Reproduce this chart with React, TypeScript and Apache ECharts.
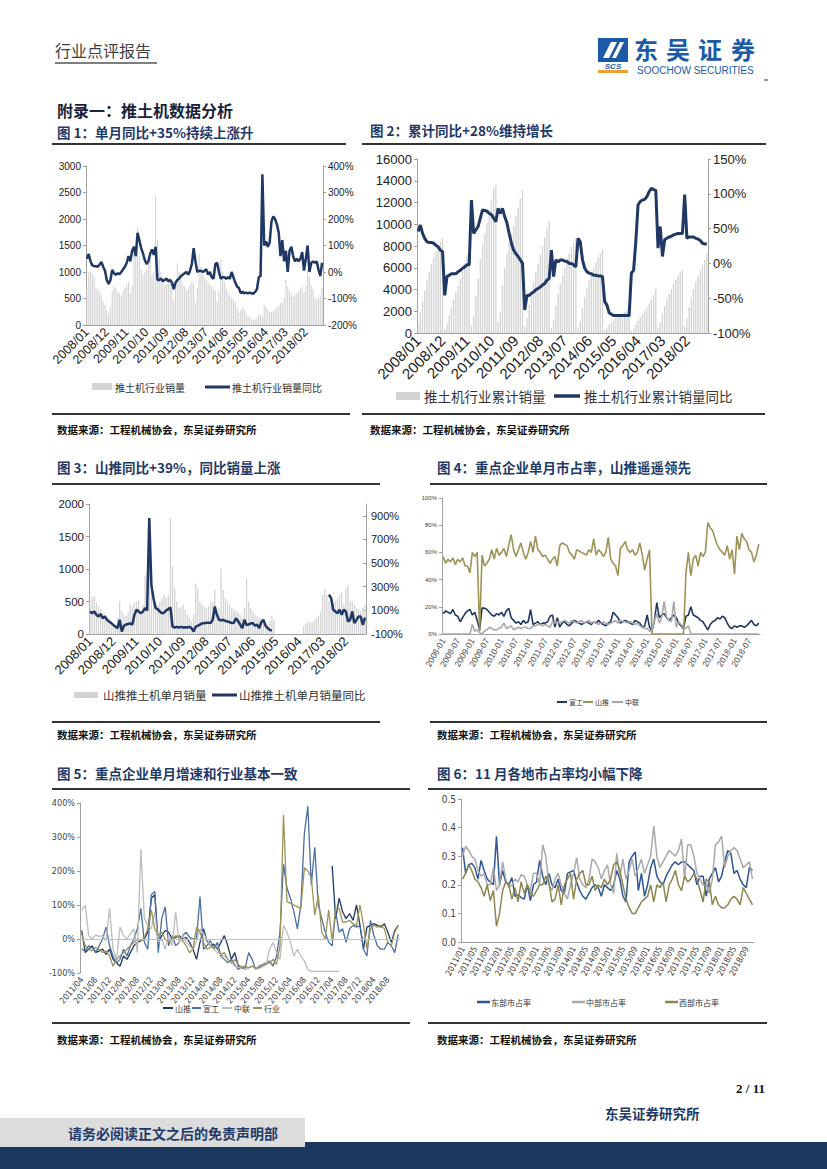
import React, { useEffect, useRef } from 'react';
import * as echarts from 'echarts';

const SANS = '"Liberation Sans", Arial, sans-serif';
const NARROW = '"Liberation Sans Narrow", "DejaVu Sans Condensed", "Liberation Sans", sans-serif';
const CJK = '"Noto Sans CJK SC", sans-serif';
const NAVY = '#1f3864';
const OLIVE = '#9c9456';
const GREY_LINE = '#a9a9a9';
const BAR_GREY = '#d3d3d3';
const AXIS_GREY = '#a0a0a0';
const BLUE = '#4a6fa5';

function monthLabels(y0: number, m0: number, n: number, sep: string): string[] {
  const out: string[] = [];
  let y = y0;
  let m = m0;
  for (let i = 0; i < n; i++) {
    out.push(`${y}${sep}${String(m).padStart(2, '0')}`);
    m++;
    if (m > 12) { m = 1; y++; }
  }
  return out;
}

// categories
const MONTHS_0801 = monthLabels(2008, 1, 131, '/');
const MONTHS_0801_DASH = monthLabels(2008, 1, 131, '-');
const MONTHS_1104 = monthLabels(2011, 4, 92, '/');
const MONTHS_1101 = monthLabels(2011, 1, 95, '/');

// Fig 1: industry monthly sales (units) and YoY (%)
const IND_SALES = [
  700, 1000, 1010, 960, 900, 700, 680, 620, 560, 450, 380, 280,
  220, 350, 650, 720, 700, 620, 600, 560, 640, 700, 780, 820,
  600, 750, 1450, 1500, 1830, 1300, 1050, 950, 1000, 1050, 1150, 1250,
  950, 1000, 2430, 1600, 1250, 1000, 800, 750, 780, 850, 900, 750,
  450, 750, 1170, 1000, 850, 760, 720, 660, 700, 760, 820, 780,
  420, 700, 1350, 1100, 950, 900, 850, 800, 760, 720, 680, 640,
  450, 650, 1230, 1000, 820, 700, 620, 560, 500, 470, 430, 330,
  230, 280, 340, 300, 220, 170, 140, 110, 95, 110, 140, 190,
  190, 150, 380, 330, 290, 250, 250, 260, 290, 330, 370, 420,
  420, 500, 850, 720, 640, 580, 540, 560, 600, 640, 690, 720,
  620, 740, 1050, 920, 760, 680, 520, 470, 520, 560, 700,
];
const IND_YOY = [
  50, 68, 40, 25, 22, 22, 20, 28, 38, 20, 5, -30,
  -45, -30, 8, -5, -10, -5, -8, 0, 10, 20, 35, 60,
  40, 80, 95, 60, 148, 120, 90, 70, 45, 30, 40, 70,
  85, 65, 95, -30, -30, -25, -35, -30, -25, -35, -30, -40,
  -65, -40, -30, -25, -15, -10, -5, 0, -10, 5, 30, 90,
  40, 0, 5, 5, 0, 5, 10, -10, 0, -20, -25, 30,
  35, 0, -25, -20, -20, -25, -20, -25, 0, -20, -40, -55,
  -60, -80, -75, -80, -78, -80, -78, -80, -82, -75, -65, -20,
  -15, 369, 100, 115, 95, 110, 190, 210, 200, 180, 150, 60,
  120, 40, 80, 0, 80, 95, 60, 40, 50, 40, 50, 75,
  5, 50, 100, 0, 35, 40, 35, 40, 10, -15, 35,
];

// Fig 2: cumulative sales and cumulative YoY (%)
const CUM_SALES = [
  900, 1900, 2900, 3900, 4800, 5600, 6300, 6900, 7500, 8000, 8400, 8700,
  350, 850, 1650, 2400, 3100, 3750, 4350, 4950, 5650, 6400, 7200, 8000,
  700, 1600, 3400, 5000, 6800, 8100, 9200, 10100, 11100, 12200, 13300, 13600,
  1000, 2000, 4400, 6000, 7300, 8300, 9100, 9900, 10700, 11500, 12400, 13100,
  600, 1400, 2600, 3700, 4700, 5600, 6400, 7200, 8000, 8800, 9600, 10300,
  450, 1150, 2500, 3600, 4500, 5300, 6000, 6700, 7300, 7900, 8300, 8700,
  450, 1100, 2300, 3300, 4100, 4800, 5400, 5950, 6450, 6900, 7350, 7700,
  250, 500, 800, 1050, 1250, 1400, 1550, 1700, 1800, 1950, 2100, 2300,
  200, 350, 750, 1100, 1450, 1750, 2050, 2350, 2700, 3100, 3550, 4100,
  450, 950, 1800, 2500, 3100, 3600, 4050, 4500, 4900, 5300, 5600, 5800,
  600, 1300, 2400, 3300, 4050, 4700, 5250, 5750, 6250, 6750, 7400,
];
const CUM_YOY = [
  46, 55, 43, 36, 31, 30, 30, 29, 26, 24, 19, 17,
  -46, -19, -17, -15, -15, -15, -12, -10, -7, -5, -2, -2,
  91, 43, 48, 53, 65, 77, 76, 75, 72, 70, 65, 60,
  79, 72, 79, 67, 58, 43, 29, 19, 14, 10, 5, 0,
  -67, -46, -46, -43, -41, -38, -36, -34, -31, -29, -24, -22,
  19, -19, 5, 2, 5, 5, 3, 3, 0, 0, -2, -5,
  36, 31, 5, -7, -12, -14, -15, -17, -17, -18, -18, -19,
  -55, -60, -71, -73, -75, -75, -75, -75, -75, -75, -75, -75,
  -14, -10, 31, 84, 89, 91, 92, 96, 103, 108, 106, 105,
  22, 53, 10, 34, 36, 38, 39, 41, 42, 43, 43, 43,
  99, 36, 38, 38, 38, 36, 35, 33, 29, 28, 28,
];

// Fig 3: Shantui monthly sales and YoY (%)
const ST_SALES = [
  450, 570, 580, 480, 430, 380, 330, 290, 260, 220, 200, 160,
  120, 250, 500, 350, 300, 280, 330, 450, 420, 480, 500, 520,
  300, 450, 900, 960, 1060, 800, 600, 500, 450, 500, 550, 600,
  550, 600, 1785, 1040, 700, 500, 400, 420, 450, 380, 300, 250,
  200, 300, 780, 700, 500, 450, 420, 400, 430, 480, 500, 680,
  300, 400, 1010, 680, 550, 500, 450, 400, 380, 350, 330, 300,
  250, 400, 860, 500, 400, 350, 300, 280, 250, 230, 220, 150,
  150, 200, 290, 220, null, null, null, null, null, null, null, null,
  null, null, null, null, null, 110, 160, 190, 170, 180, 200, 240,
  280, 350, 600, 700, 600, 500, 450, 480, 500, 550, 600, 650,
  450, 700, 750, 500, 500, 450, 400, 380, 350, 400, 450,
];
const ST_YOY = [
  90, 76, 90, 62, 48, 68, 34, 48, 20, 6, -8, -23,
  -37, -51, 20, -79, -30, -20, -15, -10, -20, 62, 105, 90,
  76, 90, 119, 100, 882, 316, 200, 119, 110, 90, 76, 80,
  100, 110, 125, -37, -45, -40, -45, -40, -45, -42, -45, -40,
  -50, -79, -37, -30, -20, -10, -10, -5, -5, -8, 20, 133,
  62, 20, 15, 20, 10, 6, 0, -8, -5, 34, 10, -20,
  -51, 20, -23, -20, -10, -8, -30, -20, -51, 0, 20, -30,
  -51, -65, -71, null, null, null, null, null, null, null, null, null,
  null, null, null, null, null, null, null, null, null, null, null, null,
  null, null, null, null, null, 232, 204, 105, 90, 76, 105, 62,
  105, 90, 6, 20, 90, -8, 20, 48, 48, -23, 39,
];

// Fig 4: monthly market share (%)
const SHARE_XG = [
  15, 17, 16, 15, 18, 14, 13, 9, 12, 15, 17, 18,
  14, 16, 10, 3, 19, 19, 18, 16, 14, 13, 15, 14,
  16, 13, 17, 19, 12, 10, 8, 9, 7, 10, 8, 9,
  18, 7, 8, 9, 7, 8, 8, 9, 13, 14, 5, 12,
  5, 8, 9, 7, 6, 8, 10, 9, 8, 7, 8, 9,
  8, 7, 9, 8, 10, 8, 7, 6, 8, 9, 16, 14,
  12, 8, 9, 10, 9, 8, 7, 10, 9, 8, 5, 6,
  14, 5, 2, 10, 23, 12, 14, 15, 12, 10, 12, 14,
  12, 8, 6, 4, 13, 14, 20, 14, 13, 12, 10, 9,
  6, 3, 7, 9, 10, 12, 11, 13, 12, 8, 5, 4,
  6, 5, 6, 6, 5, 6, 8, 10, 7, 6, 8,
];
const SHARE_ST = [
  57, 52, 55, 53, 56, 51, 55, 53, 56, 50, 50, 45,
  60, 57, 60, 2, 58, 50, 52, 55, 62, 55, 63, 58,
  60, 63, 57, 65, 73, 62, 57, 62, 67, 60, 55, 60,
  68, 60, 72, 62, 60, 57, 58, 55, 52, 55, 57, 50,
  65, 67, 66, 65, 60, 58, 55, 62, 61, 60, 59, 58,
  62, 60, 70, 58, 62, 60, 57, 60, 71, 55, 52, 50,
  43, 63, 65, 68, 62, 60, 62, 58, 60, 67, 58, 47,
  55, 62, 0, 0, 0, 0, 0, 0, 0, 0, 0, 0,
  0, 0, 0, 0, 45, 60, 43, 55, 58, 50, 60, 57,
  60, 82, 78, 76, 70, 65, 62, 60, 58, 65, 55, 62,
  44, 72, 62, 74, 70, 68, 62, 60, 53, 58, 66,
];
const SHARE_ZL = [
  0, 0, 0, 0, 0, 0, 0, 0, 0, 0, 0, 0,
  7, 2, 3, 1, 0, 2, 3, 5, 4, 3, 3, 4,
  5, 8, 4, 5, 6, 3, 4, 5, 4, 5, 5, 4,
  4, 6, 6, 7, 7, 6, 7, 6, 5, 9, 8, 9,
  8, 9, 10, 9, 8, 10, 9, 8, 9, 10, 8, 9,
  10, 8, 9, 8, 7, 8, 9, 8, 7, 8, 9, 10,
  8, 10, 9, 9, 8, 9, 8, 7, 8, 6, 5, 4,
  4, 2, 3, 10, 15, 8, 12, 24, 12, 10, 9, 24,
  5, 9, 7, 5, 4, 6, 0, 0, 0, 0, 0, 0,
  0, 0, 0, 0, 0, 0, 0, 0, 0, 0, 0, 0,
  0, 0, 0, 0, 0, 0, 0, 0, 0, 0, 0,
];

// Fig 5: monthly YoY growth (%), 2011/04 - 2018/11
const YOY5_ST = [
  25, -40, -30, -20, -40, -35, -30, -45, -30,
  -60, -70, -80, -50, -60, -40, -20, -10, -5, 0, 20, 120,
  130, -10, 10, 25, 20, 0, 5, 10, 0, 5, -10, -30,
  -60, -10, 30, -5, -20, -15, -30, -10, 10, -20, -60, -40,
  -80, -85, -88, null, null, null, null, null, null, null, null, null,
  null, null, null, null, null, null, null, null, null, null, null, null,
  null, null, null, 215, 60, 120, 80, 60, 75, 55, 100, 40,
  -30, 35, 40, 45, 40, 35, 45, 20, -10, 25, 40,
];
const YOY5_XG = [
  -30, -35, -20, -25, -40, -20, 0, 35, -20,
  -50, -70, -60, -30, -50, -20, 0, 30, 90, -10, -30, 130,
  140, -40, 60, 95, -20, 10, -20, -10, 10, 20, 5, 0,
  0, 125, -30, -20, -5, -30, -10, -50, -60, -70, -60, -75,
  -90, -80, -85, -40, -60, -90, -80, -75, -70, -65, -80, -50,
  20, 220, 150, 120, 80, 30, 100, 310, 390, 160, 270, 100,
  60, 20, -10, -20, 80, 20, 30, -10, 30, 40, 35, 40,
  -30, -50, 55, 10, -20, -30, -30, -10, -20, -40, 15,
];
const YOY5_ZL = [
  85, 100, 10, 0, 12, 8, 10, -5, 90,
  -30, -60, 35, 10, 0, 15, 30, -40, 265, 60, 40, 30,
  80, -10, 0, -30, 5, -20, 80, -10, 10, -10, -20, -30,
  -5, 30, 15, 0, -20, -30, -40, -45, -50, -60, -70, -80,
  -85, -80, -90, -85, -80, -90, -85, -80, -75, -30, -10, -40,
  -60, 40, 20, -10, -50, -30, -50, -65, -90, -95, -95, -95,
  -95, -95, -95, -95, -95, -95, null, null, null, null, null, null,
  null, null, null, null, null, null, null, null, null, null, null,
];
const YOY5_IND = [
  15, -20, -30, -35, -25, -30, -40, -35, -50,
  -80, -60, -50, -40, -30, -20, -10, 0, -5, 5, 30, 85,
  30, 10, 20, 0, -10, 0, 10, 5, -5, -20, -40, -30,
  35, 20, -10, -30, -25, -20, -30, -45, -40, -60, -70, -60,
  -75, -85, -80, -85, -80, -85, -85, -80, -75, -70, -60, -75,
  -20, 365, 110, 105, 100, 95, 90, 210, 200, 180, 70, 130,
  20, 0, 85, -5, 90, 90, 50, 50, 55, 45, 40, 100,
  40, -30, 30, 40, 35, 40, 30, -10, -20, 20, 40,
];

// Fig 6: regional market share, 2011/01 - 2018/11
const EAST = [
  0.33, 0.24, 0.27, 0.275, 0.26, 0.22, 0.285, 0.25, 0.22, 0.21, 0.2, 0.37,
  0.2, 0.25, 0.21, 0.2, 0.225, 0.16, 0.165, 0.155, 0.15, 0.2, 0.145, 0.2,
  0.21, 0.285, 0.23, 0.2, 0.24, 0.2, 0.19, 0.22, 0.18, 0.17, 0.24, 0.245,
  0.25, 0.21, 0.18, 0.16, 0.15, 0.17, 0.19, 0.2, 0.19, 0.16, 0.2, 0.19,
  0.18, 0.2, 0.25, 0.22, 0.16, 0.14, 0.28, 0.3, 0.315, 0.18, 0.24, 0.16,
  0.2, 0.26, 0.29, 0.23, 0.21, 0.2, 0.23, 0.25, 0.27, 0.28, 0.27, 0.28,
  0.28, 0.27, 0.26, 0.25, 0.2, 0.23, 0.23, 0.16, 0.22, 0.24, 0.26, 0.21,
  0.23, 0.28, 0.32, 0.31, 0.24, 0.25, 0.22, 0.2, 0.19, 0.26, 0.25,
];
const CENTRAL = [
  0.3, 0.335, 0.32, 0.3, 0.29, 0.25, 0.23, 0.24, 0.2, 0.2, 0.26, 0.18,
  0.2, 0.28, 0.22, 0.19, 0.2, 0.22, 0.21, 0.235, 0.23, 0.2, 0.18, 0.24,
  0.24, 0.2, 0.34, 0.3, 0.2, 0.18, 0.22, 0.24, 0.2, 0.17, 0.15, 0.2,
  0.24, 0.295, 0.22, 0.2, 0.19, 0.22, 0.29, 0.28, 0.26, 0.22, 0.25, 0.27,
  0.2, 0.17, 0.31, 0.23, 0.29, 0.22, 0.25, 0.29, 0.23, 0.26, 0.29, 0.24,
  0.27, 0.3, 0.405, 0.3, 0.26, 0.28, 0.3, 0.32, 0.31, 0.3, 0.32, 0.36,
  0.22, 0.34, 0.34, 0.3, 0.24, 0.22, 0.2, 0.2, 0.17, 0.22, 0.34, 0.35,
  0.37, 0.26, 0.3, 0.32, 0.33, 0.32, 0.29, 0.26, 0.27, 0.28, 0.22,
];
const WEST = [
  0.22, 0.24, 0.27, 0.25, 0.22, 0.21, 0.19, 0.16, 0.2, 0.145, 0.18, 0.055,
  0.1, 0.18, 0.21, 0.2, 0.15, 0.19, 0.14, 0.21, 0.17, 0.2, 0.17, 0.16,
  0.18, 0.2, 0.2, 0.23, 0.21, 0.14, 0.15, 0.2, 0.13, 0.2, 0.22, 0.24,
  0.15, 0.22, 0.24, 0.25, 0.2, 0.2, 0.23, 0.18, 0.2, 0.19, 0.22, 0.2,
  0.22, 0.27, 0.28, 0.25, 0.2, 0.15, 0.12, 0.1, 0.1, 0.12, 0.14, 0.15,
  0.16, 0.2, 0.14, 0.2, 0.19, 0.21, 0.14, 0.2, 0.22, 0.25, 0.2, 0.18,
  0.23, 0.21, 0.22, 0.24, 0.22, 0.18, 0.14, 0.22, 0.21, 0.13, 0.16, 0.13,
  0.12, 0.12, 0.13, 0.15, 0.16, 0.15, 0.13, 0.19, 0.17, 0.15, 0.13,
];

const pct = (v: number) => `${v}%`;
const plain = (v: number) => `${v}`;

function catX(gridIndex: number, data: string[], interval: number, rotate: number, fontSize: number, family: string, extra: any = {}) {
  return {
    type: 'category', gridIndex, data, boundaryGap: true,
    axisTick: { show: false },
    axisLine: { show: true, lineStyle: { color: AXIS_GREY, width: 1 } },
    axisLabel: { interval, rotate, fontSize, fontFamily: family, color: '#222', margin: 5, ...extra },
    splitLine: { show: false },
  };
}

function valY(gridIndex: number, position: string, min: number, max: number, interval: number, fontSize: number, family: string, formatter: any, extra: any = {}, tickInside = false) {
  return {
    type: 'value', gridIndex, position, min, max, interval,
    splitLine: { show: false },
    axisLine: { show: true, lineStyle: { color: AXIS_GREY } },
    axisTick: { show: true, inside: tickInside, length: 3, lineStyle: { color: AXIS_GREY } },
    axisLabel: { fontSize, fontFamily: family, color: '#222', formatter, margin: 5, ...extra },
  };
}

function barS(name: string, xi: number, yi: number, data: any[]) {
  return { name, type: 'bar', xAxisIndex: xi, yAxisIndex: yi, data, barWidth: '60%', itemStyle: { color: BAR_GREY }, silent: true };
}

function lineS(name: string, xi: number, yi: number, data: any[], color: string, width: number, extra: any = {}) {
  return {
    name, type: 'line', xAxisIndex: xi, yAxisIndex: yi, data, showSymbol: false, symbol: 'none',
    lineStyle: { color, width }, itemStyle: { color }, connectNulls: false, silent: true, ...extra,
  };
}

function T(text: string, x: number, y: number, font: string, fill: string, align = 'left') {
  return {
    type: 'text', x, y, silent: true,
    style: { text, font, fill, textAlign: align, textVerticalAlign: 'middle', align, verticalAlign: 'middle' },
  };
}
function L(x1: number, y1: number, x2: number, y2: number, stroke: string, lineWidth: number) {
  return { type: 'line', silent: true, shape: { x1, y1, x2, y2 }, style: { stroke, lineWidth } };
}
function R(x: number, y: number, width: number, height: number, fill: string) {
  return { type: 'rect', silent: true, shape: { x, y, width, height }, style: { fill } };
}

function buildOption() {
  const titleFont = `bold 13.5px ${CJK}`;
  const srcFont = `bold 10.5px ${CJK}`;
  const TITLE_C = '#1f3a68';
  const SRC = '数据来源：工程机械协会，东吴证券研究所';
  const LOGO = '#1b5aa6';
  const logoFont = `bold 24px ${CJK}`;

  const graphics: any[] = [
    // header
    T('行业点评报告', 55, 50, `16px ${CJK}`, '#404040'),
    L(55, 63, 157, 63, '#7f7f7f', 2),
    R(598, 38, 30, 24, LOGO),
    { type: 'polygon', silent: true, shape: { points: [[603, 58], [611, 42], [617, 42], [609, 58]] }, style: { fill: '#fff' } },
    { type: 'polygon', silent: true, shape: { points: [[612, 58], [620, 42], [624, 42], [616, 58]] }, style: { fill: '#fff' } },
    T('SCS', 613, 66, `bold italic 8px ${SANS}`, LOGO, 'center'),
    R(598, 70, 30, 3, '#f0a030'),
    T('东', 634, 48, logoFont, LOGO),
    T('吴', 666, 48, logoFont, LOGO),
    T('证', 698, 48, logoFont, LOGO),
    T('券', 731, 48, logoFont, LOGO),
    T('SOOCHOW SECURITIES', 637, 70, `10px ${SANS}`, LOGO),
    L(764, 80, 768, 80, '#333', 1),
    T('附录一：推土机数据分析', 57, 110, `bold 16px ${CJK}`, '#1a2238'),
    // titles
    T('图 1：单月同比+35%持续上涨升', 57, 132, titleFont, TITLE_C),
    T('图 2：累计同比+28%维持增长', 370, 130, titleFont, TITLE_C),
    T('图 3：山推同比+39%，同比销量上涨', 57, 467, titleFont, TITLE_C),
    T('图 4：重点企业单月市占率，山推遥遥领先', 437, 467, titleFont, TITLE_C),
    T('图 5：重点企业单月增速和行业基本一致', 57, 773, titleFont, TITLE_C),
    T('图 6：11 月各地市占率均小幅下降', 437, 773, titleFont, TITLE_C),
    L(52, 144, 346, 144, '#333', 2),
    L(362, 144, 766, 144, '#333', 2),
    L(52, 484, 380, 484, '#333', 2),
    L(430, 484, 767, 484, '#333', 2),
    L(52, 789, 410, 789, '#333', 2),
    L(428, 789, 767, 789, '#333', 2),
    // source lines
    L(52, 414, 350, 414, '#333', 2),
    L(362, 414, 765, 414, '#333', 2),
    L(52, 722, 380, 722, '#333', 2),
    L(430, 722, 767, 722, '#333', 2),
    L(52, 1023, 410, 1023, '#333', 2),
    L(428, 1023, 767, 1023, '#333', 2),
    T(SRC, 57, 429, srcFont, '#111'),
    T(SRC, 370, 429, srcFont, '#111'),
    T(SRC, 57, 734, srcFont, '#111'),
    T(SRC, 437, 734, srcFont, '#111'),
    T(SRC, 57, 1039, srcFont, '#111'),
    T(SRC, 437, 1039, srcFont, '#111'),
    // legends fig 1
    R(92, 383, 20, 7, BAR_GREY),
    T('推土机行业销量', 115, 387, `10px ${CJK}`, '#333'),
    L(205, 387, 230, 387, NAVY, 3),
    T('推土机行业销量同比', 232, 387, `10px ${CJK}`, '#333'),
    // fig 2
    R(396, 392, 24, 8, BAR_GREY),
    T('推土机行业累计销量', 424, 396, `13.5px ${CJK}`, '#333'),
    L(554, 396, 580, 396, NAVY, 3.5),
    T('推土机行业累计销量同比', 584, 396, `13.5px ${CJK}`, '#333'),
    // fig 3
    R(74, 692, 24, 6, BAR_GREY),
    T('山推推土机单月销量', 103, 695, `11.5px ${CJK}`, '#333'),
    L(212, 695, 237, 695, NAVY, 3),
    T('山推推土机单月销量同比', 239, 695, `11.5px ${CJK}`, '#333'),
    // fig 4
    L(557, 702, 567, 702, NAVY, 2),
    T('宣工', 569, 702, `7px ${CJK}`, '#333'),
    L(583, 702, 593, 702, OLIVE, 2),
    T('山推', 595, 702, `7px ${CJK}`, '#333'),
    L(612, 702, 623, 702, GREY_LINE, 2),
    T('中联', 625, 702, `7px ${CJK}`, '#333'),
    // fig 5
    L(163, 1008, 173, 1008, NAVY, 2),
    T('山推', 175, 1008, `8px ${CJK}`, '#333'),
    L(192, 1008, 201, 1008, BLUE, 2),
    T('宣工', 203, 1008, `8px ${CJK}`, '#333'),
    L(222, 1008, 232, 1008, '#bdbdbd', 2),
    T('中联', 234, 1008, `8px ${CJK}`, '#333'),
    L(253, 1008, 262, 1008, OLIVE, 2),
    T('行业', 264, 1008, `8px ${CJK}`, '#333'),
    // fig 6
    L(477, 1002, 490, 1002, '#2f5597', 2.5),
    T('东部市占率', 491, 1002, `8px ${CJK}`, '#333'),
    L(572, 1002, 585, 1002, GREY_LINE, 2.5),
    T('中部市占率', 586, 1002, `8px ${CJK}`, '#333'),
    L(665, 1002, 678, 1002, '#8c8650', 2.5),
    T('西部市占率', 679, 1002, `8px ${CJK}`, '#333'),
    // footer
    T('2 / 11', 765, 1088, `bold 13px "Liberation Serif", serif`, '#111', 'right'),
    T('东吴证券研究所', 605, 1113, `bold 13.5px ${CJK}`, '#1f3a68'),
    R(0, 1142, 827, 27, '#1b395e'),
    R(0, 1118, 305, 29, '#dcdcdc'),
    T('请务必阅读正文之后的免责声明部', 68, 1133, `bold 14px ${CJK}`, '#1f3a68'),
  ];

  return {
    animation: false,
    backgroundColor: '#ffffff',
    textStyle: { fontFamily: SANS },
    grid: [
      { left: 86, top: 166, width: 237, height: 159 },
      { left: 417, top: 159, width: 291, height: 174 },
      { left: 89, top: 504, width: 277, height: 130 },
      { left: 442, top: 498, width: 318, height: 136 },
      { left: 80, top: 803, width: 320, height: 170 },
      { left: 461, top: 799, width: 293, height: 143 },
    ],
    xAxis: [
      catX(0, MONTHS_0801, 10, 45, 12.5, SANS),
      catX(1, MONTHS_0801, 10, 45, 15, SANS),
      catX(2, MONTHS_0801, 10, 45, 13, SANS),
      catX(3, MONTHS_0801_DASH, 5, 60, 8.5, SANS, { color: '#444' }),
      { ...catX(4, MONTHS_1104, 3, 50, 8.5, NARROW, { color: '#444' }), axisLine: { show: false } },
      catX(5, MONTHS_1101, 3, 62, 8.5, NARROW, { color: '#444' }),
    ],
    yAxis: [
      valY(0, 'left', 0, 3000, 500, 10, SANS, plain),
      valY(0, 'right', -200, 400, 100, 10, SANS, pct),
      valY(1, 'left', 0, 16000, 2000, 13, SANS, plain),
      valY(1, 'right', -100, 150, 50, 13, SANS, pct),
      valY(2, 'left', 0, 2000, 500, 11.5, SANS, plain),
      valY(2, 'right', -100, 1000, 200, 11, SANS, pct, { showMaxLabel: false }, true),
      valY(3, 'left', 0, 100, 20, 6, SANS, pct, { color: '#444' }),
      valY(4, 'left', -100, 400, 100, 9, NARROW, pct, { color: '#444' }),
      valY(5, 'left', 0, 0.5, 0.1, 10, NARROW, (v: number) => v.toFixed(1), { color: '#444' }),
    ],
    series: [
      barS('推土机行业销量', 0, 0, IND_SALES),
      lineS('推土机行业销量同比', 0, 1, IND_YOY, NAVY, 2.5),
      barS('推土机行业累计销量', 1, 2, CUM_SALES),
      lineS('推土机行业累计销量同比', 1, 3, CUM_YOY, NAVY, 3),
      barS('山推推土机单月销量', 2, 4, ST_SALES),
      lineS('山推推土机单月销量同比', 2, 5, ST_YOY, NAVY, 2.5),
      lineS('宣工市占率', 3, 6, SHARE_XG, NAVY, 1.6),
      lineS('山推市占率', 3, 6, SHARE_ST, OLIVE, 1.6),
      lineS('中联市占率', 3, 6, SHARE_ZL, GREY_LINE, 1.6),
      lineS('山推', 4, 7, YOY5_ST, NAVY, 1.3),
      lineS('宣工', 4, 7, YOY5_XG, BLUE, 1.3),
      lineS('中联', 4, 7, YOY5_ZL, '#bdbdbd', 1.3),
      lineS('行业', 4, 7, YOY5_IND, OLIVE, 1.3, {
        markLine: {
          silent: true, symbol: ['none', 'none'], label: { show: false },
          lineStyle: { color: '#bfbfbf', type: 'solid', width: 1 },
          data: [{ yAxis: 0 }],
        },
      }),
      lineS('东部市占率', 5, 8, EAST, '#2f5597', 1.5),
      lineS('中部市占率', 5, 8, CENTRAL, GREY_LINE, 1.5),
      lineS('西部市占率', 5, 8, WEST, '#8c8650', 1.5),
    ],
    graphic: graphics,
  };
}

export default function App() {
  const ref = useRef<HTMLDivElement>(null);
  useEffect(() => {
    if (!ref.current) return;
    const chart = echarts.init(ref.current, null, { renderer: 'svg' });
    chart.setOption(buildOption() as any);
    return () => chart.dispose();
  }, []);
  return (
    <div
      ref={ref}
      style={{ position: 'absolute', left: 0, top: 0, width: 827, height: 1169, background: '#fff' }}
    />
  );
}
